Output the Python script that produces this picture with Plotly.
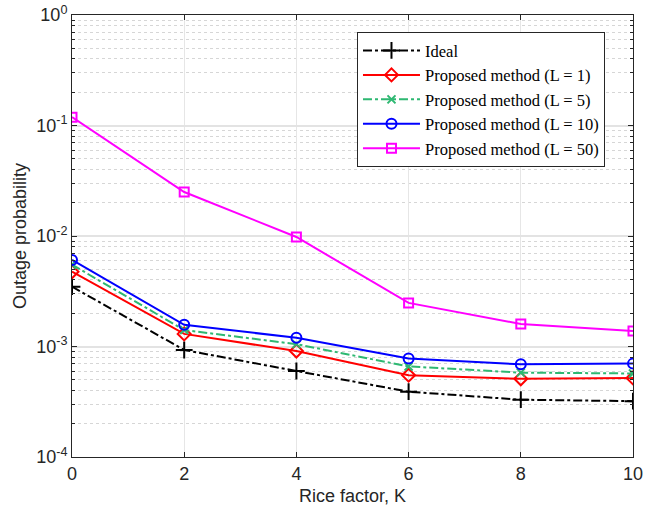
import plotly.graph_objects as go

K = [0, 2, 4, 6, 8, 10]
ideal = [0.00348, 0.00093, 0.00060, 0.00039, 0.00033, 0.00032]
L1 = [0.00475, 0.00130, 0.00091, 0.00055, 0.00051, 0.00052]
L5 = [0.00550, 0.00141, 0.00105, 0.00066, 0.00058, 0.00057]
L10 = [0.00607, 0.00157, 0.00120, 0.00078, 0.00069, 0.00070]
L50 = [0.119, 0.025, 0.0098, 0.00248, 0.00160, 0.00138]

names = ["Ideal", "Proposed method (L = 1)", "Proposed method (L = 5)",
         "Proposed method (L = 10)", "Proposed method (L = 50)"]
series = [ideal, L1, L5, L10, L50]
colors = ["black", "#ff0000", "#2eb872", "#0000ff", "#ff00ff"]
dashes = ["dashdot", "solid", "dashdot", "solid", "solid"]
symbols = ["cross-thin-open", "diamond-open", "x-thin-open", "circle-open", "square-open"]
sizes = [12, 10, 8, 10, 9]

ytickvals = [1e-4, 1e-3, 1e-2, 1e-1, 1]
yticktext = ["10<sup>-4</sup>", "10<sup>-3</sup>", "10<sup>-2</sup>", "10<sup>-1</sup>", "10<sup>0</sup>"]
yminor = [m * 10.0 ** e for e in range(-4, 0) for m in range(2, 10)]

fig = go.Figure()
for n, s, c, d, sym, sz in zip(names, series, colors, dashes, symbols, sizes):
    fig.add_trace(go.Scatter(
        x=K, y=s, name=n, mode="lines+markers",
        line=dict(color=c, width=2, dash=d),
        marker=dict(symbol=sym, size=sz, color=c, line=dict(color=c, width=2)),
    ))

axfont = dict(family="Liberation Sans, Arial", size=18, color="#262626")
fig.update_layout(
    width=656, height=513,
    margin=dict(l=72, r=23, t=15, b=56),
    plot_bgcolor="white", paper_bgcolor="white",
    font=axfont,
    legend=dict(
        x=0.508, y=0.961, xanchor="left", yanchor="top",
        bgcolor="white", bordercolor="#262626", borderwidth=1,
        font=dict(family="Liberation Serif, Times New Roman", size=16.5, color="black"),
        tracegroupgap=0, itemwidth=57,
    ),
    showlegend=True,
)
fig.update_xaxes(
    range=[0, 10], tickvals=K, ticks="inside", ticklen=5, tickcolor="#262626",
    showline=True, linecolor="#262626", linewidth=1, mirror="ticks",
    showgrid=True, gridcolor="#e6e6e6", gridwidth=1, zeroline=False,
    title=dict(text="Rice factor, K", font=dict(size=18, color="#262626"), standoff=6),
    tickfont=axfont, automargin=False, ticklabeloverflow="allow",
)
fig.update_yaxes(
    type="log", range=[-4, 0], tickvals=ytickvals, ticktext=yticktext,
    ticks="inside", ticklen=5, tickcolor="#262626",
    showline=True, linecolor="#262626", linewidth=1, mirror="ticks",
    showgrid=True, gridcolor="#e3e3e3", gridwidth=1.5, zeroline=False,
    minor=dict(tickvals=yminor, ticks="inside", ticklen=3, showgrid=True,
               gridcolor="#d6d6d6", griddash="dot", gridwidth=1, tickcolor="#262626"),
    title=dict(text="Outage probability", font=dict(size=18, color="#262626"), standoff=4),
    tickfont=axfont, automargin=False, ticklabeloverflow="allow",
)
fig.write_html("out.html", config={"displayModeBar": False},
               post_script="document.body.style.margin='0';document.body.style.overflow='hidden';")
